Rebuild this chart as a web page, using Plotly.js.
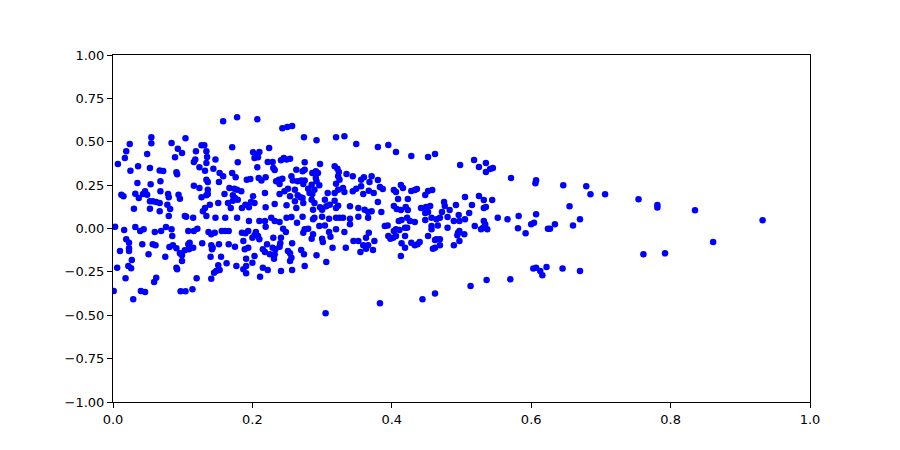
<!DOCTYPE html>
<html>
<head>
<meta charset="utf-8">
<script src="https://cdn.plot.ly/plotly-3.0.1.min.js"></script>
<style>html,body{margin:0;padding:0;background:#fff;}#chart{width:900px;height:450px;}</style>
</head>
<body>
<div id="chart"></div>
<script>
const xValues = [
0.158,0.178,0.055,0.055,0.024,0.019,0.017,0.007,0.025,0.036,0.049,0.053,0.067,0.072,0.084,0.093,0.099,0.104,0.089,0.091,
0.092,0.068,0.035,0.054,0.012,0.015,0.032,0.037,0.043,0.046,0.049,0.053,0.057,0.062,0.068,0.067,0.079,0.080,0.078,0.094,
0.096,0.030,0.053,0.067,0.082,0.116,0.118,0.119,0.127,0.131,0.124,0.132,0.134,0.135,0.134,0.147,0.144,0.153,0.158,0.171,
0.179,0.171,0.176,0.134,0.136,0.152,0.116,0.124,0.136,0.167,0.174,0.178,0.184,0.160,0.172,0.175,0.172,0.179,0.127,0.134,
0.136,0.139,0.132,0.129,0.151,0.165,0.169,0.185,
0.207,0.243,0.250,0.257,0.274,0.292,0.320,0.332,0.349,0.201,0.205,0.210,0.208,0.203,0.224,0.222,0.229,0.207,0.230,0.232,
0.241,0.245,0.249,0.254,0.275,0.263,0.272,0.275,0.297,0.318,0.322,0.324,0.286,0.291,0.294,0.192,0.197,0.209,0.213,0.219,
0.234,0.238,0.243,0.239,0.256,0.258,0.265,0.270,0.275,0.273,0.291,0.292,0.285,0.296,0.323,0.325,0.320,0.335,0.344,0.356,
0.360,0.371,0.368,0.201,0.218,0.239,0.246,0.251,0.254,0.261,0.265,0.269,0.280,0.282,0.289,0.286,0.308,0.318,0.323,0.330,
0.332,0.344,0.349,0.356,0.359,0.367,0.374,0.198,0.203,0.190,0.195,0.219,0.232,0.249,0.261,0.263,0.273,0.272,0.285,0.287,
0.289,0.304,0.306,0.297,0.300,0.311,0.318,0.320,0.323,0.340,0.352,0.361,0.366,0.371,
0.380,0.395,0.406,0.428,0.452,0.462,0.498,0.518,0.525,0.535,0.535,0.541,0.545,0.571,0.380,0.383,0.387,0.403,0.406,0.413,
0.416,0.428,0.433,0.436,0.448,0.452,0.458,0.409,0.423,0.380,0.505,0.525,0.532,0.544,0.515,0.492,0.475,0.476,0.483,0.403,
0.407,0.413,0.420,0.423,0.442,0.449,0.455,0.385,0.448,0.452,0.472,0.496,0.511,0.532,0.535,
0.607,0.606,0.646,0.679,0.685,0.706,0.754,0.655,0.607,0.781,0.781,0.835,
0.003,0.016,0.032,0.039,0.044,0.060,0.069,0.076,0.084,0.085,0.080,0.103,0.105,0.115,0.134,0.147,0.161,0.178,0.108,0.116,
0.121,0.137,0.141,0.146,0.156,0.161,0.166,0.185,0.019,0.023,0.010,0.023,0.023,0.042,0.057,0.061,0.081,0.086,0.091,0.096,
0.103,0.109,0.115,0.108,0.110,0.128,0.141,0.143,0.142,0.152,0.166,0.175,0.051,0.027,0.022,0.026,0.006,0.075,0.099,0.099,
0.091,0.092,0.140,0.155,0.151,0.163,0.177,0.018,0.062,0.059,0.120,0.141,0.145,0.148,0.153,0.001,0.040,0.046,0.029,0.097,
0.104,0.114,
0.195,0.210,0.218,0.227,0.232,0.239,0.249,0.256,0.264,0.272,0.287,0.289,0.300,0.310,0.320,0.325,0.330,0.340,0.352,0.366,
0.194,0.190,0.205,0.208,0.219,0.200,0.203,0.210,0.230,0.244,0.248,0.241,0.275,0.280,0.273,0.287,0.285,0.296,0.304,0.310,
0.312,0.300,0.301,0.320,0.332,0.340,0.352,0.345,0.367,0.363,0.375,0.187,0.194,0.189,0.215,0.218,0.221,0.229,0.233,0.240,
0.239,0.225,0.232,0.231,0.257,0.251,0.254,0.256,0.254,0.270,0.274,0.292,0.315,0.334,0.359,0.363,0.366,0.373,0.355,0.191,
0.203,0.200,0.191,0.187,0.215,0.222,0.191,0.211,0.241,0.257,0.275,0.306,0.305,
0.390,0.394,0.410,0.414,0.422,0.426,0.433,0.448,0.457,0.464,0.469,0.480,0.489,0.497,0.505,0.519,0.532,0.534,0.528,0.531,
0.537,0.552,0.566,0.403,0.406,0.411,0.419,0.422,0.457,0.457,0.466,0.480,0.495,0.497,0.504,0.494,0.395,0.398,0.402,0.406,
0.419,0.452,0.464,0.469,0.462,0.497,0.414,0.428,0.433,0.437,0.440,0.419,0.459,0.462,0.469,0.489,0.413,0.513,0.536,0.570,
0.462,0.444,0.383,
0.582,0.581,0.592,0.600,0.604,0.624,0.627,0.634,0.660,0.670,0.761,0.603,0.607,0.613,0.616,0.622,0.645,0.670,
0.792,0.861,0.932
];
const yValues = [
0.618,0.641,0.526,0.491,0.487,0.445,0.406,0.372,0.333,0.359,0.429,0.349,0.335,0.331,0.493,0.460,0.435,0.520,0.410,0.324,
0.312,0.272,0.262,0.255,0.195,0.186,0.201,0.176,0.199,0.214,0.195,0.157,0.157,0.153,0.214,0.147,0.199,0.180,0.137,0.195,
0.172,0.114,0.114,0.099,0.112,0.383,0.397,0.445,0.480,0.480,0.353,0.333,0.445,0.412,0.378,0.397,0.345,0.320,0.301,0.468,
0.382,0.320,0.295,0.281,0.268,0.268,0.247,0.233,0.224,0.233,0.229,0.224,0.214,0.199,0.191,0.176,0.160,0.166,0.180,0.191,
0.199,0.137,0.118,0.099,0.147,0.147,0.118,0.118,
0.629,0.578,0.585,0.591,0.526,0.508,0.526,0.531,0.487,0.439,0.425,0.441,0.410,0.406,0.464,0.383,0.383,0.353,0.349,0.337,
0.393,0.406,0.397,0.402,0.382,0.339,0.330,0.339,0.372,0.359,0.345,0.326,0.320,0.330,0.320,0.281,0.285,0.291,0.276,0.295,
0.272,0.281,0.287,0.256,0.301,0.276,0.272,0.276,0.276,0.256,0.291,0.272,0.252,0.249,0.301,0.281,0.258,0.314,0.301,0.281,
0.295,0.301,0.268,0.186,0.205,0.199,0.214,0.229,0.186,0.224,0.191,0.180,0.229,0.205,0.224,0.199,0.205,0.205,0.224,0.233,
0.210,0.214,0.229,0.243,0.199,0.218,0.205,0.153,0.147,0.137,0.122,0.122,0.141,0.134,0.157,0.118,0.147,0.176,0.166,0.108,
0.147,0.166,0.128,0.122,0.108,0.137,0.160,0.118,0.131,0.128,0.118,0.108,0.095,0.099,
0.470,0.481,0.441,0.418,0.412,0.429,0.366,0.395,0.354,0.378,0.326,0.343,0.349,0.291,0.280,0.239,0.228,0.222,0.210,0.251,
0.233,0.216,0.222,0.228,0.193,0.216,0.222,0.170,0.170,0.153,0.182,0.187,0.164,0.164,0.135,0.135,0.153,0.130,0.107,0.130,
0.112,0.107,0.124,0.107,0.118,0.124,0.130,0.095,0.089,0.095,0.095,0.078,0.089,0.118,0.124,
0.278,0.261,0.249,0.243,0.197,0.197,0.168,0.128,0.082,0.135,0.121,0.105,
0.010,-0.009,0.009,-0.014,-0.005,-0.020,-0.014,0.009,-0.005,-0.043,0.072,0.072,0.068,0.062,0.072,0.062,0.062,0.062,-0.014,-0.014,
-0.001,-0.020,-0.033,-0.024,-0.014,-0.014,-0.014,-0.024,-0.062,-0.082,-0.130,-0.114,-0.130,-0.091,-0.091,-0.097,-0.107,-0.097,-0.114,-0.143,
-0.126,-0.120,-0.111,-0.091,-0.082,-0.085,-0.097,-0.111,-0.120,-0.091,-0.091,-0.105,-0.149,-0.182,-0.216,-0.229,-0.226,-0.163,-0.154,-0.187,
-0.226,-0.235,-0.163,-0.163,-0.212,-0.201,-0.216,-0.287,-0.284,-0.308,-0.287,-0.289,-0.255,-0.245,-0.239,-0.360,-0.360,-0.366,-0.408,-0.362,
-0.362,-0.350,
0.043,0.043,0.043,0.062,0.043,0.037,0.062,0.066,0.033,0.068,0.053,0.062,0.068,0.056,0.062,0.062,0.062,0.056,0.068,0.062,
-0.014,-0.028,-0.020,-0.043,0.010,-0.053,-0.039,-0.062,-0.053,-0.001,-0.020,-0.053,-0.005,-0.001,-0.024,-0.033,-0.059,0.014,0.018,-0.020,
-0.047,-0.059,-0.078,-0.005,-0.020,0.024,-0.072,-0.072,-0.024,-0.053,-0.072,-0.072,-0.111,-0.120,-0.120,-0.135,-0.091,-0.111,-0.120,-0.085,
-0.105,-0.149,-0.149,-0.174,-0.085,-0.130,-0.143,-0.168,-0.187,-0.124,-0.149,-0.154,-0.111,-0.111,-0.097,-0.116,-0.097,-0.124,-0.135,-0.174,
-0.159,-0.197,-0.216,-0.235,-0.226,-0.239,-0.258,-0.278,-0.245,-0.239,-0.216,-0.193,-0.489,
0.014,0.018,0.043,0.049,0.062,0.043,0.037,0.049,0.062,0.053,0.062,0.066,0.043,0.043,0.053,0.014,0.043,0.024,-0.005,0.005,
-0.005,0.062,0.053,-0.014,-0.005,-0.009,0.005,0.005,0.014,-0.005,0.018,0.005,-0.024,-0.014,-0.033,-0.039,-0.043,-0.059,-0.053,-0.043,
-0.043,-0.043,-0.062,-0.062,-0.066,-0.072,-0.085,-0.082,-0.097,-0.091,-0.078,-0.111,-0.116,-0.111,-0.097,-0.097,-0.159,-0.331,-0.297,-0.293,
-0.374,-0.408,-0.431,
0.072,0.001,-0.028,0.024,0.033,-0.001,-0.001,0.024,0.018,0.053,-0.149,-0.230,-0.226,-0.245,-0.270,-0.222,-0.230,-0.245,
-0.143,-0.078,0.047
];
const xTicks = [0.0, 0.2, 0.4, 0.6, 0.8, 1.0];
const yTicks = [-1.00, -0.75, -0.50, -0.25, 0.00, 0.25, 0.50, 0.75, 1.00];

const trace = {
  x: xValues, y: yValues, type: 'scatter', mode: 'markers',
  marker: {color: '#0000ff', size: 6.5, line: {width: 0}},
  hoverinfo: 'skip'
};
const axisBase = {
  showgrid: false, zeroline: false, showline: true, mirror: true,
  linecolor: '#000', linewidth: 1, ticks: 'outside', ticklen: 5, tickwidth: 1, tickcolor: '#000',
  tickfont: {family: 'DejaVu Sans', size: 13, color: '#000'}
};
const layout = {
  width: 900, height: 450,
  margin: {l: 113, r: 90, t: 55, b: 48, pad: 0},
  paper_bgcolor: '#fff', plot_bgcolor: '#fff',
  showlegend: false,
  xaxis: Object.assign({}, axisBase, {range: [0, 1], tickvals: xTicks, ticktext: xTicks.map(v => v.toFixed(1))}),
  yaxis: Object.assign({}, axisBase, {range: [-1, 1], tickvals: yTicks, ticktext: yTicks.map(v => v.toFixed(2).replace('-', '\u2212'))})
};
Plotly.newPlot('chart', [trace], layout, {staticPlot: true, displayModeBar: false});
</script>
</body>
</html>
